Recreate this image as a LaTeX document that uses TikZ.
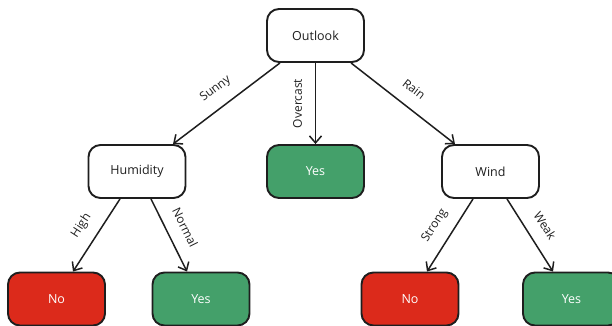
\documentclass[tikz,border=0pt]{standalone}
\usepackage{fontspec}
\setmainfont{Open Sans}
\usetikzlibrary{arrows.meta}
\definecolor{leafgreen}{HTML}{44A06A}
\definecolor{leafred}{HTML}{DC2A1B}
\definecolor{inkgray}{HTML}{1E1E1E}
\tikzset{
  box/.style={draw=inkgray, line width=1.9pt, rounded corners=12pt, minimum width=97pt, minimum height=53pt, inner sep=0pt, font=\fontsize{12.5}{14}\selectfont, text=inkgray},
  decision/.style={box, fill=white},
  yesleaf/.style={box, fill=leafgreen, text=white},
  noleaf/.style={box, fill=leafred, text=white},
  branch/.style={draw=inkgray, line width=1.5pt, -{Straight Barb[length=7pt,width=12pt,line width=1.5pt]}},
  lbl/.style={font=\fontsize{12}{14}\selectfont, text=inkgray, inner sep=1pt, anchor=center, pos=0.5},
  slab/.style={lbl, sloped, yshift=18pt}
}
\begin{document}
\begin{tikzpicture}[x=1pt,y=-1pt]
\useasboundingbox (0,0) rectangle (612,326);
\clip (0,0) rectangle (612,326);
\node[decision] (outlook) at (315.5,35.5) {Outlook};
\node[decision] (humidity) at (137,171.5) {Humidity};
\node[yesleaf] (yesmid) at (315.5,171.5) {Yes};
\node[decision] (wind) at (490.5,171.5) {Wind};
\node[noleaf] (noleft) at (56.5,299) {No};
\node[yesleaf] (yesleft) at (201,299) {Yes};
\node[noleaf] (noright) at (410,299) {No};
\node[yesleaf] (yesright) at (571.5,299) {Yes};

\draw[branch] ([xshift=-35.5pt]outlook.south) -- node[slab] {Sunny} ([xshift=36pt]humidity.north);
\draw[branch] (outlook.south) -- node[lbl, rotate=90, yshift=18pt] {Overcast} (yesmid.north);
\draw[branch] ([xshift=35.5pt]outlook.south) -- node[slab] {Rain} ([xshift=-35.5pt]wind.north);
\draw[branch] ([xshift=-17pt]humidity.south) -- node[slab] {High} ([xshift=16.5pt]noleft.north);
\draw[branch] ([xshift=14pt]humidity.south) -- node[slab] {Normal} ([xshift=-14pt]yesleft.north);
\draw[branch] ([xshift=-17.5pt]wind.south) -- node[slab] {Strong} ([xshift=17pt]noright.north);
\draw[branch] ([xshift=16.5pt]wind.south) -- node[slab] {Weak} ([xshift=-18.5pt]yesright.north);
\end{tikzpicture}
\end{document}
